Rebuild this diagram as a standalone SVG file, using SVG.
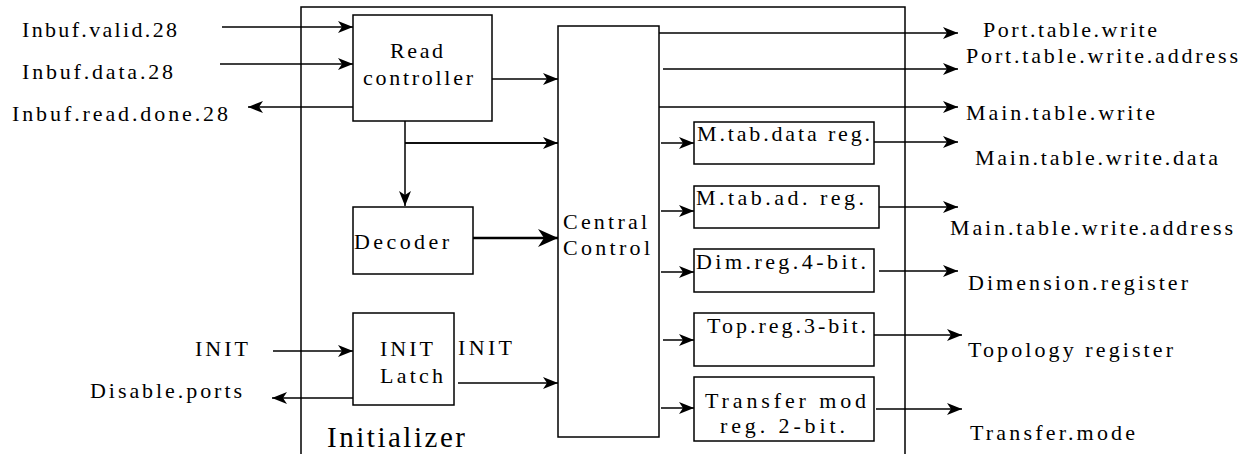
<svg xmlns="http://www.w3.org/2000/svg" width="1243" height="454" viewBox="0 0 1243 454" font-family="Liberation Serif, serif">
<style>
text{font-family:"Liberation Serif","Times New Roman",serif;font-size:22px;fill:#000}
.box{fill:#fff;stroke:#000;stroke-width:1.5}
.ln{fill:none;stroke:#000;stroke-width:1.5}
.thick{fill:none;stroke:#000;stroke-width:2.5}
</style>
<defs>
<marker id="ah" markerUnits="userSpaceOnUse" markerWidth="15" markerHeight="12" refX="15" refY="6" orient="auto"><path d="M0,0 L15,6 L0,12 L4,6 z" fill="#000"/></marker>
<marker id="ahb" markerUnits="userSpaceOnUse" markerWidth="20" markerHeight="18" refX="20" refY="9" orient="auto"><path d="M0,0 L20,9 L0,18 L6,9 z" fill="#000"/></marker>
</defs>
<rect width="1243" height="454" fill="#fff"/>
<g id="initializer">
<path class="ln" d="M301,460 L301,7 L905,7 L905,460"/>
<text x="327" y="447" style="font-size:29px" textLength="138">Initializer</text>
</g>
<g id="connectors">
<line class="ln" x1="222" y1="27" x2="353" y2="27" marker-end="url(#ah)"/>
<line class="ln" x1="220" y1="64" x2="353" y2="64" marker-end="url(#ah)"/>
<line class="ln" x1="357" y1="107" x2="248" y2="107" marker-end="url(#ah)"/>
<line class="ln" x1="492" y1="79" x2="558" y2="79" marker-end="url(#ah)"/>
<line class="ln" x1="405" y1="121" x2="405" y2="206" marker-end="url(#ah)"/>
<line class="ln" x1="405" y1="143" x2="564" y2="143"/>
<line class="ln" x1="405" y1="143" x2="558" y2="143" marker-end="url(#ah)"/>
<line class="thick" x1="473" y1="238" x2="558" y2="238" marker-end="url(#ahb)"/>
<line class="ln" x1="273" y1="351" x2="353" y2="351" marker-end="url(#ah)"/>
<line class="ln" x1="353" y1="398" x2="272" y2="398" marker-end="url(#ah)"/>
<line class="ln" x1="458" y1="383" x2="558" y2="383" marker-end="url(#ah)"/>
<line class="ln" x1="659" y1="33" x2="958" y2="33" marker-end="url(#ah)"/>
<line class="ln" x1="663" y1="69" x2="958" y2="69" marker-end="url(#ah)"/>
<line class="ln" x1="659" y1="107" x2="958" y2="107" marker-end="url(#ah)"/>
<line class="ln" x1="661" y1="143" x2="694" y2="143" marker-end="url(#ah)"/>
<line class="ln" x1="874" y1="142" x2="958" y2="142" marker-end="url(#ah)"/>
<line class="ln" x1="661" y1="211" x2="694" y2="211" marker-end="url(#ah)"/>
<line class="ln" x1="879" y1="207" x2="958" y2="207" marker-end="url(#ah)"/>
<line class="ln" x1="661" y1="272" x2="694" y2="272" marker-end="url(#ah)"/>
<line class="ln" x1="879" y1="271" x2="958" y2="271" marker-end="url(#ah)"/>
<line class="ln" x1="663" y1="340" x2="694" y2="340" marker-end="url(#ah)"/>
<line class="ln" x1="874" y1="335" x2="962" y2="335" marker-end="url(#ah)"/>
<line class="ln" x1="661" y1="408" x2="694" y2="408" marker-end="url(#ah)"/>
<line class="ln" x1="876" y1="409" x2="962" y2="409" marker-end="url(#ah)"/>
</g>
<g id="labels">
<text x="22" y="37" textLength="155">Inbuf.valid.28</text>
<text x="22" y="79" textLength="151">Inbuf.data.28</text>
<text x="12" y="121" textLength="216">Inbuf.read.done.28</text>
<text x="195" y="356" textLength="53">INIT</text>
<text x="90" y="398" textLength="152">Disable.ports</text>
<text x="458" y="355" textLength="54">INIT</text>
<text x="983" y="37" textLength="174">Port.table.write</text>
<text x="966" y="63" textLength="272">Port.table.write.address</text>
<text x="966" y="120" textLength="189">Main.table.write</text>
<text x="975" y="165" textLength="243">Main.table.write.data</text>
<text x="950" y="235" textLength="283">Main.table.write.address</text>
<text x="968" y="290" textLength="220">Dimension.register</text>
<text x="968" y="357" textLength="205">Topology register</text>
<text x="970" y="440" textLength="165">Transfer.mode</text>
</g>
<g id="read-controller">
<rect class="box" x="353" y="15" width="139" height="106"/>
<text x="390" y="58" textLength="53">Read</text>
<text x="363" y="85" textLength="110">controller</text>
</g>
<g id="decoder">
<rect class="box" x="353" y="207" width="120" height="67"/>
<text x="354" y="249" textLength="95">Decoder</text>
</g>
<g id="init-latch">
<rect class="box" x="353" y="313" width="101" height="92"/>
<text x="380" y="356" textLength="53">INIT</text>
<text x="380" y="383" textLength="63">Latch</text>
</g>
<g id="central-control">
<rect class="box" x="558" y="26" width="101" height="411"/>
<text x="563" y="229" textLength="84">Central</text>
<text x="563" y="255" textLength="87">Control</text>
</g>
<g id="m-tab-data-reg">
<rect class="box" x="694" y="122" width="180" height="42"/>
<text x="697" y="141" textLength="173">M.tab.data reg.</text>
</g>
<g id="m-tab-ad-reg">
<rect class="box" x="694" y="186" width="185" height="42"/>
<text x="696" y="205" textLength="168">M.tab.ad. reg.</text>
</g>
<g id="dim-reg">
<rect class="box" x="694" y="249" width="180" height="43"/>
<text x="696" y="269" textLength="170">Dim.reg.4-bit.</text>
</g>
<g id="top-reg">
<rect class="box" x="694" y="313" width="180" height="53"/>
<text x="707" y="333" textLength="159">Top.reg.3-bit.</text>
</g>
<g id="transfer-mod-reg">
<rect class="box" x="694" y="377" width="180" height="64"/>
<text x="705" y="408" textLength="161">Transfer mod</text>
<text x="720" y="433" textLength="125">reg. 2-bit.</text>
</g>
</svg>
